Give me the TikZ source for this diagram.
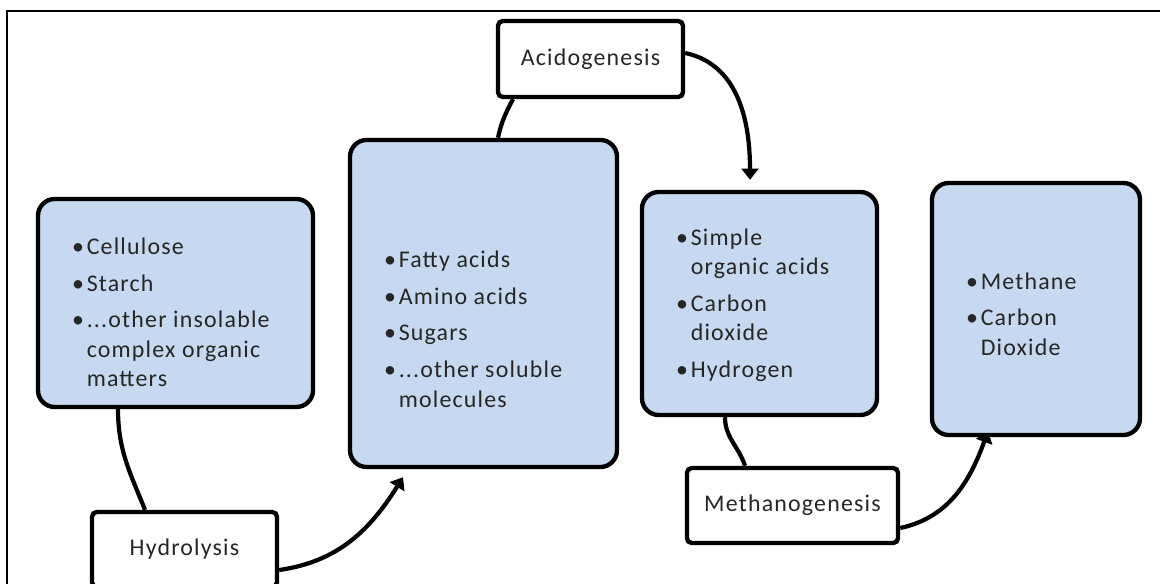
\documentclass[tikz,border=0pt]{standalone}
\usepackage{fontspec}
\setmainfont{Carlito}[LetterSpace=5]
\usepackage{tikz}
\usepackage{xcolor}
\usetikzlibrary{positioning,arrows.meta,calc,backgrounds}
\definecolor{stagefill}{RGB}{198,217,240}

\begin{document}
\begin{tikzpicture}[
    x=0.025cm,
    y=-0.025cm,
    >={Triangle[length=8pt,width=12pt]}
]

\tikzstyle{product}=[
    draw,
    line width=3.1pt,
    rounded corners=0.42cm,
    fill=stagefill
]

\tikzstyle{stage}=[
    draw,
    line width=3.1pt,
    rounded corners=0.12cm,
    fill=white,
    text=black!85,
    font=\fontsize{17}{21}\selectfont
]

\tikzstyle{items}=[
    anchor=west,
    inner sep=0pt,
    text=black!85,
    font=\fontsize{17}{21}\selectfont
]

\tikzstyle{link}=[line width=3pt]

\useasboundingbox (0,0) rectangle (1160,584);
\draw[line width=1.4pt] (7,11) rectangle (1190,610);

% product boxes
\node[product, minimum width=6.875cm, minimum height=5.2cm] (insoluble) at (175.5,303) {};
\node[product, minimum width=6.675cm, minimum height=8.175cm] (soluble) at (483.5,303.5) {};
\node[product, minimum width=5.875cm, minimum height=5.575cm] (acids) at (759.5,303.5) {};
\node[product, minimum width=5.2cm, minimum height=6.3cm] (biogas) at (1036,309) {};

\node[items] (insolubletxt) at ($(insoluble.west)+(36,12)$) {%
\begin{tabular}{@{}l@{\hspace{2pt}}l@{}}
\textbullet & Cellulose\\[5pt]
\textbullet & Starch\\[5pt]
\textbullet & ...other insolable\\
 & complex organic\\
 & matters
\end{tabular}};

\node[items] (solubletxt) at ($(soluble.west)+(36,28)$) {%
\begin{tabular}{@{}l@{\hspace{2pt}}l@{}}
\textbullet & Fatty acids\\[5pt]
\textbullet & Amino acids\\[5pt]
\textbullet & Sugars\\[5pt]
\textbullet & ...other soluble\\
 & molecules
\end{tabular}};

\node[items] (acidstxt) at ($(acids.west)+(36,2)$) {%
\begin{tabular}{@{}l@{\hspace{2pt}}l@{}}
\textbullet & Simple\\
 & organic acids\\[5pt]
\textbullet & Carbon\\
 & dioxide\\[5pt]
\textbullet & Hydrogen
\end{tabular}};

\node[items] (biogastxt) at ($(biogas.west)+(36,7.5)$) {%
\begin{tabular}{@{}l@{\hspace{2pt}}l@{}}
\textbullet & Methane\\[5pt]
\textbullet & Carbon\\
 & Dioxide
\end{tabular}};

% process steps
\node[stage, minimum width=4.625cm, minimum height=1.875cm] (hydro) at (184.5,549.5) {Hydrolysis};
\node[stage, minimum width=4.625cm, minimum height=1.9cm] (acido) at (590.5,59) {Acidogenesis};
\node[stage, minimum width=5.275cm, minimum height=1.875cm] (methano) at (792.5,505.5) {Methanogenesis};

\begin{scope}[on background layer]
\draw[link] ($(insoluble.south)+(-57.5,0)$) to[out=-90,in=112] ($(hydro.north)+(-39.5,0)$);
\draw[link,->] ($(hydro.east)+(0,20.5)$) to[out=8,in=-122] ($(soluble.south)+(-80.5,8)$);
\draw[link] ($(soluble.north)+(14.5,0)$) to[out=78,in=-118] ($(acido.south)+(-77.5,0)$);
\draw[link,->] ($(acido.east)+(0,-6)$) to[out=-12,in=90] ($(acids.north)+(-9.5,-10)$);
\draw[link] ($(acids.south)+(-34.5,0)$) to[out=-90,in=108] ($(methano.north)+(-47.5,0)$);
\draw[link,->] ($(methano.east)+(0,22.5)$) to[out=12,in=-110] ($(biogas.south)+(-48,-6)$);
\end{scope}

\end{tikzpicture}
\end{document}
